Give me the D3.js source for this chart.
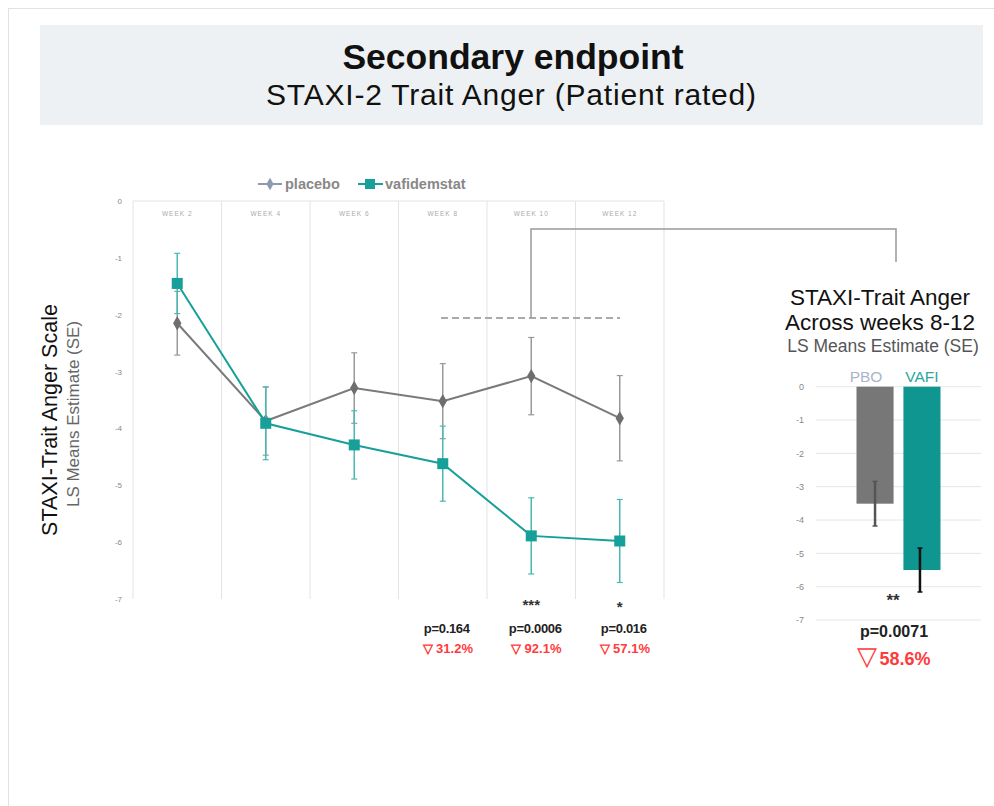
<!DOCTYPE html>
<html><head><meta charset="utf-8">
<script src="https://cdn.jsdelivr.net/npm/d3@7"></script>
<style>body{margin:0;background:#fff}svg{display:block;font-family:Arial,"Liberation Sans",sans-serif}</style>
</head><body>
<script>
const weeks = ["WEEK 2","WEEK 4","WEEK 6","WEEK 8","WEEK 10","WEEK 12"];
const placebo = [-2.15,-3.87,-3.29,-3.52,-3.08,-3.82];
const placeboSE = [0.56,0.6,0.62,0.66,0.68,0.75];
const vafi = [-1.45,-3.91,-4.29,-4.62,-5.89,-5.98];
const vafiSE = [0.53,0.64,0.6,0.66,0.67,0.73];
const yTicks = [0,-1,-2,-3,-4,-5,-6,-7];
const stars = [{w:"WEEK 10",t:"***"},{w:"WEEK 12",t:"*"}];
const pvals = [{w:"WEEK 8",p:"p=0.164",d:"31.2%"},{w:"WEEK 10",p:"p=0.0006",d:"92.1%"},{w:"WEEK 12",p:"p=0.016",d:"57.1%"}];
const barGroups = ["PBO","VAFI"];
const barValues = [-3.51,-5.5];
const barSE = [0.67,0.66];
const barStars = "**";
const barP = "p=0.0071";
const barDelta = "58.6%";

const W=994,H=806;
const svg=d3.select("body").append("svg").attr("width",W).attr("height",H);
svg.append("rect").attr("x",8.5).attr("y",8.5).attr("width",990).attr("height",800).attr("fill","none").attr("stroke","#e2e2e2");

// header
svg.append("rect").attr("x",40).attr("y",25).attr("width",943).attr("height",100).attr("fill","#eef1f3");
svg.append("text").attr("x",513).attr("y",69).attr("text-anchor","middle").attr("font-size",35.5).attr("font-weight","bold").attr("fill","#111").text("Secondary endpoint");
svg.append("text").attr("x",511).attr("y",105).attr("text-anchor","middle").attr("font-size",30).attr("fill","#111")
  .attr("textLength",490).attr("lengthAdjust","spacing").text("STAXI-2 Trait Anger (Patient rated)");

const teal="#17a099", gray="#7a7a7a";
const x=d3.scaleBand().domain(weeks).range([133,664]);
const y=d3.scaleLinear().domain([-7,0]).range([599,201]);
const cx=d=>x(d)+x.bandwidth()/2;

// grid
const g=svg.append("g");
g.append("line").attr("x1",133).attr("x2",664).attr("y1",y(0)).attr("y2",y(0)).attr("stroke","#e3e3e3");
const edges=weeks.map(w=>x(w)).concat([664]);
g.selectAll(".vl").data(edges).join("line").attr("x1",d=>d).attr("x2",d=>d).attr("y1",y(0)).attr("y2",y(-7)).attr("stroke","#e3e3e3");
g.selectAll(".wl").data(weeks).join("text").attr("x",d=>cx(d)).attr("y",216).attr("text-anchor","middle").attr("font-size",6.5).attr("letter-spacing",1).attr("fill","#aaa").text(d=>d);

// y axis
const ya=d3.axisLeft(y).tickValues(yTicks).tickSize(0).tickPadding(0).tickFormat(d=>d===0?"0":String(d));
const yag=svg.append("g").attr("transform","translate(122,0)").call(ya);
yag.select(".domain").remove();
yag.selectAll("text").attr("font-size",8).attr("fill","#888").attr("font-family","Arial,'Liberation Sans',sans-serif");

// y title
svg.append("text").attr("transform","translate(57,420) rotate(-90)").attr("text-anchor","middle").attr("font-size",21.5).attr("fill","#111").text("STAXI-Trait Anger Scale");
svg.append("text").attr("transform","translate(79,414) rotate(-90)").attr("text-anchor","middle").attr("font-size",17).attr("fill","#666").text("LS Means Estimate (SE)");

// legend
const lg=svg.append("g");
lg.append("line").attr("x1",258).attr("x2",282).attr("y1",184).attr("y2",184).attr("stroke","#8d9bb0").attr("stroke-width",2);
lg.append("path").attr("d",d3.symbol(d3.symbolDiamond,45)()).attr("transform","translate(270,184)").attr("fill","#8d9bb0");
lg.append("text").attr("x",285).attr("y",189).attr("font-size",14.5).attr("font-weight","bold").attr("fill","#888").text("placebo");
lg.append("line").attr("x1",358).attr("x2",383).attr("y1",184).attr("y2",184).attr("stroke",teal).attr("stroke-width",2);
lg.append("rect").attr("x",365).attr("y",179).attr("width",10).attr("height",10).attr("fill",teal);
lg.append("text").attr("x",385).attr("y",189).attr("font-size",14.5).attr("font-weight","bold").attr("fill","#888").text("vafidemstat");

// dashed + bracket
svg.append("line").attr("x1",441).attr("x2",620).attr("y1",318).attr("y2",318).attr("stroke","#aaa").attr("stroke-width",2).attr("stroke-dasharray","7,4");
svg.append("path").attr("d","M531,318 V229 H896 V262").attr("fill","none").attr("stroke","#999").attr("stroke-width",1.5);

function series(vals,se,lineCol,errCol,marker){
  const data=weeks.map((w,i)=>({w,v:vals[i],s:se[i]}));
  const eg=svg.append("g");
  data.forEach(d=>{
    eg.append("line").attr("x1",cx(d.w)).attr("x2",cx(d.w)).attr("y1",y(d.v+d.s)).attr("y2",y(d.v-d.s)).attr("stroke",errCol).attr("stroke-width",1.5);
    [d.v+d.s,d.v-d.s].forEach(e=>eg.append("line").attr("x1",cx(d.w)-3).attr("x2",cx(d.w)+3).attr("y1",y(e)).attr("y2",y(e)).attr("stroke",errCol).attr("stroke-width",1.2));
  });
  svg.append("path").datum(data).attr("d",d3.line().x(d=>cx(d.w)).y(d=>y(d.v))).attr("fill","none").attr("stroke",lineCol).attr("stroke-width",2);
  if(marker==="diamond"){
    svg.selectAll(null).data(data).join("path").attr("d",d3.symbol(d3.symbolDiamond,60)()).attr("transform",d=>`translate(${cx(d.w)},${y(d.v)})`).attr("fill","#6e6e6e");
  } else {
    svg.selectAll(null).data(data).join("rect").attr("x",d=>cx(d.w)-5.5).attr("y",d=>y(d.v)-5.5).attr("width",11).attr("height",11).attr("fill",teal);
  }
}
series(placebo,placeboSE,gray,"#999","diamond");
series(vafi,vafiSE,teal,"#4cb8b2","square");

// annotations
svg.selectAll(".st").data(stars).join("text").attr("x",d=>cx(d.w)).attr("y",d=>d.t==="*"?612:610).attr("text-anchor","middle").attr("font-size",15).attr("font-weight","bold").attr("fill","#333").text(d=>d.t);
svg.selectAll(".pv").data(pvals).join("text").attr("x",d=>cx(d.w)+4).attr("y",633).attr("text-anchor","middle").attr("font-size",13).attr("font-weight","bold").attr("fill","#222").attr("letter-spacing",-0.3).text(d=>d.p);
svg.selectAll(".dl").data(pvals).join("text").attr("x",d=>cx(d.w)+5).attr("y",653).attr("text-anchor","middle").attr("font-size",13).attr("font-weight","bold").attr("fill","#ff3b3b").text(d=>"\u25BD "+d.d);

// right bar chart
svg.append("text").attr("x",880).attr("y",305).attr("text-anchor","middle").attr("font-size",22.5).attr("fill","#111").text("STAXI-Trait Anger");
svg.append("text").attr("x",880).attr("y",330).attr("text-anchor","middle").attr("font-size",22.5).attr("fill","#111").text("Across weeks 8-12");
svg.append("text").attr("x",883).attr("y",352).attr("text-anchor","middle").attr("font-size",17.5).attr("fill","#555").text("LS Means Estimate (SE)");

const by=d3.scaleLinear().domain([-7,0]).range([620,386.7]);
const bx=d3.scaleBand().domain(barGroups).range([856.5,940.5]).paddingInner(0.21);
svg.selectAll(".bg").data(yTicks).join("line").attr("x1",816).attr("x2",981).attr("y1",d=>by(d)).attr("y2",d=>by(d)).attr("stroke","#e6e6e6");
const bya=d3.axisLeft(by).tickValues(yTicks).tickSize(0).tickPadding(0).tickFormat(d=>String(d));
const byg=svg.append("g").attr("transform","translate(804,0)").call(bya);
byg.select(".domain").remove();
byg.selectAll("text").attr("font-size",9).attr("fill","#888").attr("font-family","Arial,'Liberation Sans',sans-serif");
const barCols=["#777777","#0f9690"];
const bd=barGroups.map((k,i)=>({k,v:barValues[i],s:barSE[i],c:barCols[i]}));
svg.selectAll(".bar").data(bd).join("rect").attr("x",d=>bx(d.k)).attr("width",bx.bandwidth()).attr("y",by(0)).attr("height",d=>by(d.v)-by(0)).attr("fill",d=>d.c);
const ec=["#555","#111"];
bd.forEach((d,i)=>{
  const xc=bx(d.k)+bx.bandwidth()/2+(i===0?0:-2);
  svg.append("line").attr("x1",xc).attr("x2",xc).attr("y1",by(d.v+d.s)).attr("y2",by(d.v-d.s)).attr("stroke",ec[i]).attr("stroke-width",2.5);
  [d.v+d.s,d.v-d.s].forEach(e=>svg.append("line").attr("x1",xc-2.5).attr("x2",xc+2.5).attr("y1",by(e)).attr("y2",by(e)).attr("stroke",ec[i]).attr("stroke-width",1.5));
});
svg.selectAll(".bl").data(bd).join("text").attr("x",d=>bx(d.k)+bx.bandwidth()/2+(d.k==="PBO"?-9:0)).attr("y",382).attr("text-anchor","middle").attr("font-size",15.5).attr("fill",(d,i)=>i===0?"#a9b5c8":"#2aa7a0").text(d=>d.k);
svg.append("text").attr("x",893).attr("y",606).attr("text-anchor","middle").attr("font-size",17).attr("font-weight","bold").attr("fill","#333").text(barStars);
svg.append("text").attr("x",894).attr("y",637).attr("text-anchor","middle").attr("font-size",16).attr("font-weight","bold").attr("fill","#222").text(barP);
const dt=svg.append("text").attr("x",894).attr("y",665).attr("text-anchor","middle").attr("font-weight","bold").attr("fill","#ff3b3b");
dt.append("tspan").attr("font-size",26).attr("font-weight","normal").text("\u25BD");
dt.append("tspan").attr("font-size",18).attr("dx",2).text(barDelta);
</script>
</body></html>
